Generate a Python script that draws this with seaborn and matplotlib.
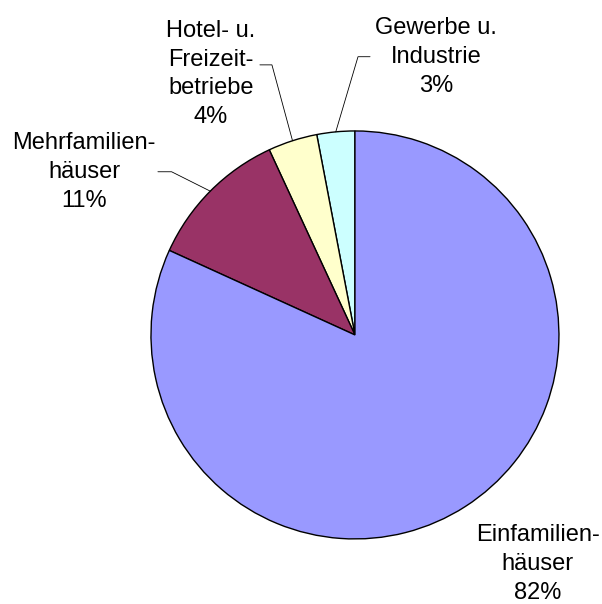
import numpy as np
import matplotlib
matplotlib.use("Agg")
import matplotlib.pyplot as plt
import seaborn as sns

categories = ["Gewerbe u.\nIndustrie", "Hotel- u.\nFreizeit-\nbetriebe", "Mehrfamilien-\nhäuser", "Einfamilien-\nhäuser"]
values = [3.0, 3.9, 11.3, 81.8]
pct_labels = ["3%", "4%", "11%", "82%"]
colors = ["#CCFFFF", "#FFFFCC", "#993366", "#9999FF"]

sns.set_theme(style="white")
plt.rcParams["font.family"] = ["Liberation Sans", "DejaVu Sans"]

fig = plt.figure(figsize=(6.02, 6.04), dpi=100)
ax = fig.add_axes([0, 0, 1, 1])

wedges, _ = ax.pie(values, colors=colors, startangle=90, counterclock=True,
                   radius=1.0, center=(0, 0),
                   wedgeprops=dict(edgecolor="black", linewidth=1.0))

ax.set_xlim(-1.740, 1.211)
ax.set_ylim(-1.319, 1.642)
ax.set_aspect("equal")
ax.set_axis_off()

# label layout (text centre, elbow, horizontal end) in data units
text_pos = [(0.397, 1.363), (-0.706, 1.279), (-1.328, 0.799), (0.897, -1.123)]
elbows = [((0.015, 1.364), (0.074, 1.364)),
          ((-0.407, 1.324), (-0.466, 1.324)),
          ((-0.899, 0.800), (-0.966, 0.800)),
          None]

for w, cat, pct, tp, el in zip(wedges, categories, pct_labels, text_pos, elbows):
    ax.text(tp[0], tp[1], cat + "\n" + pct, ha="center", va="center",
            multialignment="center", fontsize=17, linespacing=1.4, color="black")
    if el is not None:
        mid = np.deg2rad((w.theta1 + w.theta2) / 2)
        px, py = np.cos(mid), np.sin(mid)
        ax.plot([px, el[0][0], el[1][0]], [py, el[0][1], el[1][1]],
                color="black", linewidth=0.6)

fig.savefig("out.png", dpi=100, facecolor="white")
